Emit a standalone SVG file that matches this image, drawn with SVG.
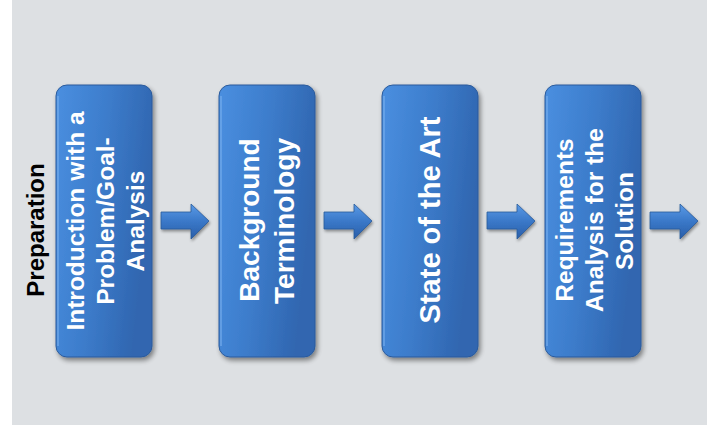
<svg xmlns="http://www.w3.org/2000/svg" width="707" height="432" viewBox="0 0 707 432">
  <defs>
    <linearGradient id="boxFill" x1="0" y1="0" x2="1" y2="0.3">
      <stop offset="0" stop-color="#4a8fe0"/>
      <stop offset="0.5" stop-color="#3d7dcc"/>
      <stop offset="1" stop-color="#3066b0"/>
    </linearGradient>
    <linearGradient id="arrowFill" x1="0" y1="0" x2="0" y2="1">
      <stop offset="0" stop-color="#5a9ae6"/>
      <stop offset="0.5" stop-color="#3a78c8"/>
      <stop offset="1" stop-color="#2a5ea8"/>
    </linearGradient>
    <filter id="shadow" x="-20%" y="-10%" width="140%" height="125%">
      <feGaussianBlur in="SourceAlpha" stdDeviation="2.5"/>
      <feOffset dx="1.5" dy="3" result="b"/>
      <feComponentTransfer><feFuncA type="linear" slope="0.45"/></feComponentTransfer>
      <feMerge><feMergeNode/><feMergeNode in="SourceGraphic"/></feMerge>
    </filter>
    <filter id="ashadow" x="-20%" y="-30%" width="150%" height="170%">
      <feGaussianBlur in="SourceAlpha" stdDeviation="1.5"/>
      <feOffset dx="1" dy="2"/>
      <feComponentTransfer><feFuncA type="linear" slope="0.4"/></feComponentTransfer>
      <feMerge><feMergeNode/><feMergeNode in="SourceGraphic"/></feMerge>
    </filter>
  </defs>
  <style>
    .box { fill: url(#boxFill); stroke: #2b5b9c; stroke-width: 1; filter: url(#shadow); }
    .hl { fill: none; stroke: #7fb3f0; stroke-width: 1.5; opacity: 0.7; }
    .lbl { font-family: "Liberation Sans", Arial, sans-serif; font-weight: bold; fill: #ffffff; text-anchor: middle; }
    .side { font-family: "Liberation Sans", Arial, sans-serif; font-weight: bold; fill: #000000; text-anchor: middle; font-size: 24px; }
    .arrow { fill: url(#arrowFill); stroke: #2a5a9a; stroke-width: 0.8; filter: url(#ashadow); }
  </style>
  <rect x="0" y="0" width="707" height="432" fill="#ffffff"/>
  <rect x="12" y="0" width="695" height="425" fill="#dde0e3"/>

  <text class="side" transform="translate(44,230) rotate(-90)">Preparation</text>

  <g id="node1">
    <rect class="box" x="56" y="85" width="96" height="272" rx="11"/>
    <path class="hl" d="M58,96 V346"/>
    <text class="lbl" font-size="24.5" transform="translate(83.5,221) rotate(-90)">Introduction with a</text>
    <text class="lbl" font-size="24.5" transform="translate(113.5,221) rotate(-90)">Problem/Goal-</text>
    <text class="lbl" font-size="24.5" transform="translate(143.5,221) rotate(-90)">Analysis</text>
  </g>

  <g id="node2">
    <rect class="box" x="219" y="85" width="96" height="272" rx="11"/>
    <path class="hl" d="M221,96 V346"/>
    <text class="lbl" font-size="28" transform="translate(259,220) rotate(-90)">Background</text>
    <text class="lbl" font-size="28" transform="translate(293.5,221) rotate(-90)">Terminology</text>
  </g>

  <g id="node3">
    <rect class="box" x="382" y="85" width="96" height="272" rx="11"/>
    <path class="hl" d="M384,96 V346"/>
    <text class="lbl" font-size="29" transform="translate(440,220) rotate(-90)">State of the Art</text>
  </g>

  <g id="node4">
    <rect class="box" x="545" y="85" width="96" height="272" rx="11"/>
    <path class="hl" d="M547,96 V346"/>
    <text class="lbl" font-size="24.5" transform="translate(573,220) rotate(-90)">Requirements</text>
    <text class="lbl" font-size="24.5" transform="translate(603,220) rotate(-90)">Analysis for the</text>
    <text class="lbl" font-size="24.5" transform="translate(633,221) rotate(-90)">Solution</text>
  </g>

  <g id="connectors">
    <path class="arrow" d="M161,212 H191 V204 L209,221 L191,239 V229 H161 Z"/>
    <path class="arrow" d="M324,212 H354 V204 L372,221 L354,239 V229 H324 Z"/>
    <path class="arrow" d="M487,212 H517 V204 L535,221 L517,239 V229 H487 Z"/>
    <path class="arrow" d="M650,212 H680 V204 L698,221 L680,239 V229 H650 Z"/>
  </g>
</svg>
